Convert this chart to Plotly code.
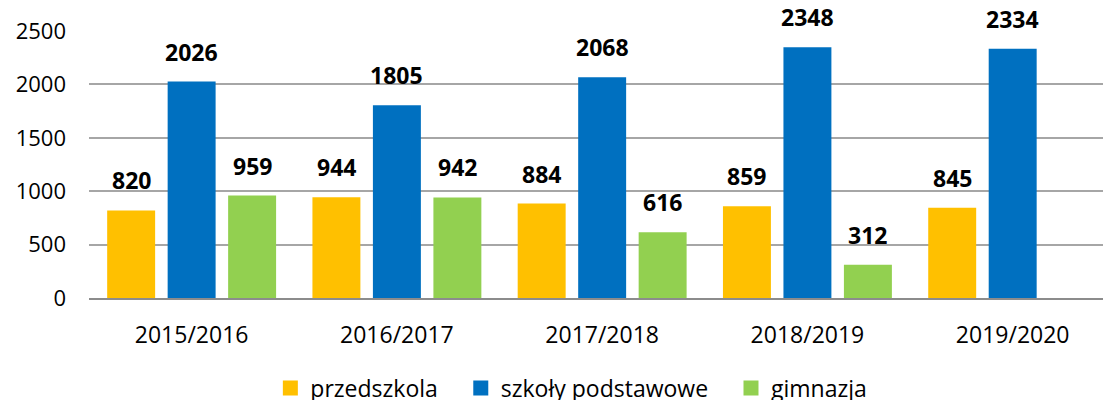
import plotly.graph_objects as go

# dane
lata = ["2015/2016", "2016/2017", "2017/2018", "2018/2019", "2019/2020"]
przedszkola = [820, 944, 884, 859, 845]
szkoly_podstawowe = [2026, 1805, 2068, 2348, 2334]
gimnazja = [959, 942, 616, 312, None]

serie = [
    ("przedszkola", przedszkola, "#FFC000"),
    ("szkoły podstawowe", szkoly_podstawowe, "#0070C0"),
    ("gimnazja", gimnazja, "#92D050"),
]

FONT = "Open Sans"
SLOT_PX = 60.5  # odstęp między słupkami w grupie (px)
NBSP = "\u00a0"

fig = go.Figure()
for name, vals, color in serie:
    fig.add_trace(go.Bar(
        x=lata, y=vals, name=name,
        marker=dict(color=color, line=dict(width=0)),
        showlegend=False,
        hoverinfo="x+y+name",
    ))

# legenda: większe kwadraty
for i, (name, vals, color) in enumerate(serie):
    pad = NBSP * 3 if i < len(serie) - 1 else ""
    fig.add_trace(go.Scatter(
        x=[None], y=[None], mode="markers", name=name + pad,
        marker=dict(symbol="square", size=15, color=color),
        showlegend=True,
    ))

# etykiety wartości nad słupkami
for i, (name, vals, color) in enumerate(serie):
    for cat, v in zip(lata, vals):
        if v is None:
            continue
        fig.add_annotation(
            x=cat, y=v, text=str(v), showarrow=False,
            xshift=(i - 1) * SLOT_PX, yshift=12, yanchor="bottom",
            font=dict(family=FONT, size=23, color="#000000", weight="bold"),
        )

fig.update_layout(
    width=1103, height=400,
    margin=dict(l=89, r=0, t=31, b=102, autoexpand=False),
    paper_bgcolor="white", plot_bgcolor="white",
    barmode="group", bargap=0.116, bargroupgap=0.207,
    font=dict(family=FONT, size=21, color="#000000"),
    showlegend=True,
    legend=dict(
        orientation="h", xref="container", yref="container",
        x=0.518, xanchor="center", y=0.03, yanchor="middle",
        font=dict(family=FONT, size=23, color="#000000"),
        itemwidth=30, traceorder="normal", itemsizing="trace",
    ),
)
fig.update_xaxes(
    range=[-0.5, 4.44], showgrid=False, zeroline=False,
    showline=True, linecolor="#8c8c8c", linewidth=2,
    ticks="", ticklabelstandoff=15,
    tickfont=dict(family=FONT, size=23, color="#000000"),
)
fig.update_yaxes(
    range=[0, 2500], dtick=500, tick0=0,
    showgrid=True, gridcolor="#a6a6a6", gridwidth=1.5,
    zeroline=False, showline=False, ticks="", ticklabelstandoff=22,
    tickfont=dict(family=FONT, size=22, color="#000000"),
)

# bez domyślnego marginesu strony
fig.write_html("out.html", config={"displayModeBar": False},
               post_script="document.body.style.margin='0px';")
